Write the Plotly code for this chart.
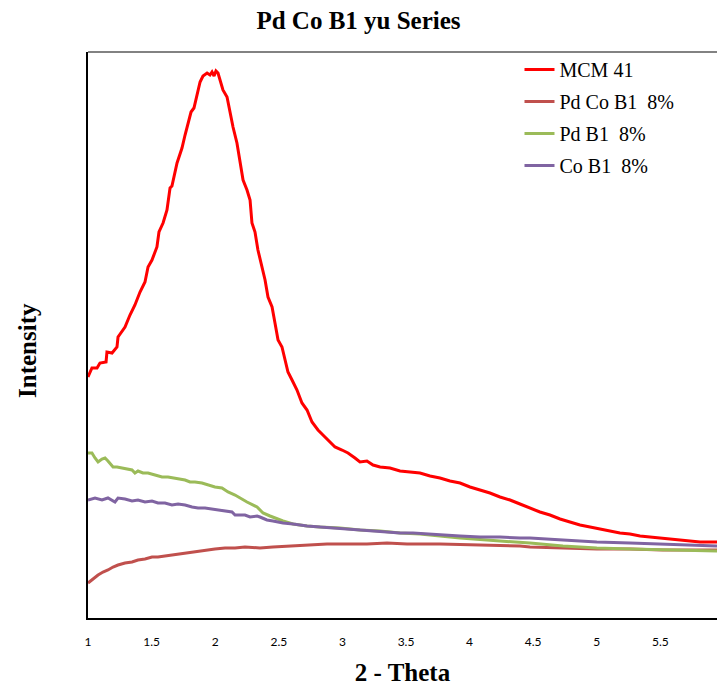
import plotly.graph_objects as go

# =========================
# DATA (2-theta, intensity in arbitrary units)
# =========================
mcm_x = [1.000, 1.031, 1.071, 1.094, 1.142, 1.149, 1.189, 1.228, 1.236, 1.291,
         1.330, 1.369, 1.409, 1.448, 1.472, 1.503, 1.542, 1.558, 1.590, 1.621,
         1.645, 1.660, 1.700, 1.739, 1.763, 1.794, 1.810, 1.833, 1.857, 1.881,
         1.904, 1.936, 1.959, 1.975, 1.991, 2.006, 2.022, 2.038, 2.061, 2.093,
         2.116, 2.140, 2.171, 2.195, 2.219, 2.250, 2.274, 2.289, 2.313, 2.336,
         2.368, 2.392, 2.415, 2.447, 2.470, 2.494, 2.525, 2.549, 2.572, 2.604,
         2.643, 2.682, 2.722, 2.761, 2.808, 2.863, 2.903, 2.942, 2.997, 3.044,
         3.099, 3.138, 3.193, 3.241, 3.296, 3.374, 3.453, 3.531, 3.610, 3.689,
         3.767, 3.846, 3.925, 4.003, 4.082, 4.160, 4.239, 4.318, 4.396, 4.475,
         4.553, 4.632, 4.711, 4.789, 4.868, 4.947, 5.025, 5.104, 5.182, 5.261,
         5.340, 5.418, 5.497, 5.575, 5.654, 5.733, 5.811, 5.945]
mcm_y = [241, 250, 250, 255, 256, 266, 265, 271, 281, 291,
         303, 313, 326, 336, 351, 358, 371, 386, 395, 408,
         430, 432, 455, 470, 483, 498, 506, 510, 523, 536,
         542, 545, 543, 546, 542, 547, 545, 538, 528, 521,
         505, 491, 475, 458, 438, 428, 418, 395, 386, 368,
         350, 338, 321, 311, 295, 278, 271, 258, 246, 238,
         228, 215, 208, 196, 188, 181, 176, 171, 168, 165,
         160, 156, 157, 153, 151, 150, 147, 146, 145, 142,
         140, 137, 135, 131, 128, 125, 121, 118, 114, 110,
         106, 103, 99, 96, 93, 91, 89, 87, 85, 84,
         82, 81, 80, 79, 78, 77, 76, 76]

pdco_x = [1.000, 1.031, 1.055, 1.079, 1.118, 1.157, 1.197, 1.236, 1.291, 1.346,
          1.393, 1.448, 1.503, 1.550, 1.605, 1.660, 1.708, 1.763, 1.841, 1.920,
          1.998, 2.077, 2.156, 2.234, 2.352, 2.454, 2.588, 2.722, 2.879, 3.036,
          3.193, 3.351, 3.508, 3.767, 4.082, 4.396, 4.475, 4.734, 5.000, 5.261,
          5.520, 5.945]
pdco_y = [35, 38, 41, 43, 46, 48, 51, 53, 55, 56,
          58, 59, 61, 61, 62, 63, 64, 65, 66, 68,
          69, 70, 70, 71, 70, 71, 72, 73, 74, 74,
          74, 75, 74, 74, 73, 72, 71, 70, 69, 69,
          68, 68]

pd_x = [1.000, 1.031, 1.055, 1.079, 1.110, 1.134, 1.157, 1.197, 1.228, 1.267,
        1.307, 1.346, 1.369, 1.393, 1.432, 1.472, 1.527, 1.582, 1.629, 1.668,
        1.708, 1.763, 1.802, 1.841, 1.896, 1.943, 1.998, 2.053, 2.101, 2.156,
        2.195, 2.250, 2.329, 2.376, 2.431, 2.486, 2.533, 2.612, 2.722, 2.824,
        2.981, 3.138, 3.296, 3.453, 3.610, 3.767, 3.925, 4.239, 4.475, 4.734,
        5.000, 5.261, 5.520, 5.788, 5.945]
pd_y = [165, 165, 160, 156, 159, 160, 157, 151, 151, 150,
        149, 148, 145, 147, 145, 145, 143, 141, 141, 140,
        139, 138, 136, 136, 135, 133, 131, 130, 126, 123,
        120, 116, 111, 105, 102, 99, 97, 94, 92, 91,
        90, 88, 87, 85, 84, 82, 80, 77, 75, 72,
        70, 69, 68, 67, 67]

co_x = [1.000, 1.055, 1.110, 1.157, 1.212, 1.236, 1.291, 1.346, 1.393, 1.448,
        1.503, 1.550, 1.605, 1.660, 1.708, 1.763, 1.818, 1.865, 1.920, 1.975,
        2.022, 2.077, 2.132, 2.156, 2.234, 2.274, 2.329, 2.352, 2.407, 2.454,
        2.533, 2.612, 2.722, 2.824, 2.926, 3.036, 3.138, 3.241, 3.351, 3.453,
        3.555, 3.665, 3.767, 3.925, 4.082, 4.239, 4.396, 4.475, 4.734, 5.000,
        5.261, 5.520, 5.788, 5.945]
co_y = [118, 120, 118, 120, 116, 120, 119, 117, 118, 116,
        117, 115, 115, 113, 114, 113, 111, 110, 110, 109,
        108, 107, 106, 103, 103, 101, 102, 101, 98, 97,
        95, 94, 92, 91, 90, 89, 88, 87, 86, 85,
        85, 84, 83, 82, 81, 81, 80, 80, 78, 76,
        75, 74, 73, 72]

series_names = ["MCM 41", "Pd Co B1  8%", "Pd B1  8%", "Co B1  8%"]
series_colors = ["#FF0000", "#C0504D", "#9BBB59", "#8064A2"]
x_ticks = [1, 1.5, 2, 2.5, 3, 3.5, 4, 4.5, 5, 5.5]

# =========================
# FIGURE
# =========================
fig = go.Figure()

for i, (xs, ys) in enumerate([(mcm_x, mcm_y), (pdco_x, pdco_y), (pd_x, pd_y), (co_x, co_y)]):
    fig.add_trace(go.Scatter(
        x=xs,
        y=ys,
        mode="lines",
        name=series_names[i],
        legendgroup=str(i),
        line=dict(color=series_colors[i], width=3)
    ))

fig.update_layout(
    width=717,
    height=686,
    margin=dict(l=88, r=0, t=52, b=68),
    paper_bgcolor="white",
    plot_bgcolor="white",
    title=dict(
        text="<b>Pd Co B1 yu Series</b>",
        x=0.5,
        xref="container",
        xanchor="center",
        y=1 - 20 / 686,
        yanchor="middle",
        font=dict(family="Liberation Serif", size=25, color="black")
    ),
    showlegend=True,
    legend=dict(
        x=0.686,
        y=1 + 2 / 566,
        xanchor="left",
        yanchor="top",
        tracegroupgap=3,
        bgcolor="rgba(0,0,0,0)",
        font=dict(family="Liberation Serif", size=20, color="black")
    ),
    xaxis=dict(
        range=[1, 5.945],
        tickvals=x_ticks,
        ticks="outside",
        ticklen=12,
        tickcolor="rgba(0,0,0,0)",
        tickfont=dict(family="Lato", size=12, color="black"),
        showgrid=False,
        zeroline=False,
        showline=True,
        linecolor="black",
        linewidth=2,
        title=dict(
            text="<b>2 - Theta</b>",
            font=dict(family="Liberation Serif", size=25, color="black"),
            standoff=20
        )
    ),
    yaxis=dict(
        range=[0, 566],
        showticklabels=False,
        ticks="",
        showgrid=False,
        zeroline=False,
        showline=True,
        linecolor="black",
        linewidth=2
    )
)

# y axis title placed a little below the plot centre, as in the source chart
fig.add_annotation(
    text="<b>Intensity</b>",
    xref="paper", yref="paper",
    x=(27 - 88) / 629, y=(618 - 351) / 566,
    xanchor="center", yanchor="middle",
    textangle=-90,
    showarrow=False,
    font=dict(family="Liberation Serif", size=25, color="black")
)

# top border of the plot frame
fig.add_shape(
    type="line", xref="paper", yref="paper",
    x0=0, x1=1, y0=1, y1=1,
    line=dict(color="#595959", width=1.5)
)

# page body has a default 8px margin; drop it so the figure sits at the corner
fig.write_html(
    "out.html",
    config={"displayModeBar": False},
    post_script="document.body.style.margin = '0';"
)
